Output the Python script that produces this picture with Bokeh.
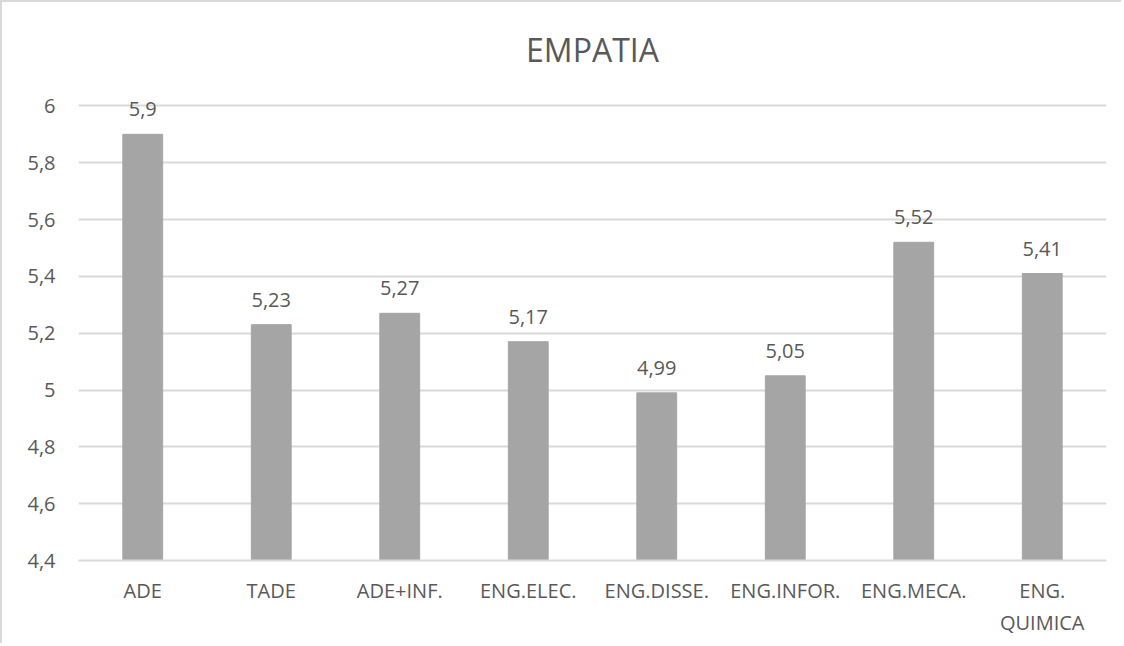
from bokeh.plotting import figure
from bokeh.models import ColumnDataSource, CustomJSTickFormatter, FixedTicker, Range1d, Title
from bokeh.embed import file_html
from bokeh.resources import INLINE
from bokeh.core.properties import value

categories = ["ADE", "TADE", "ADE+INF.", "ENG.ELEC.", "ENG.DISSE.", "ENG.INFOR.", "ENG.MECA.", "ENG.\nQUIMICA"]
values = [5.9, 5.23, 5.27, 5.17, 4.99, 5.05, 5.52, 5.41]
labels = [str(v).replace(".", ",") for v in values]
y_ticks = [4.4, 4.6, 4.8, 5.0, 5.2, 5.4, 5.6, 5.8, 6.0]

FONT = "Open Sans"
TEXT = "#595959"
GRID = "#D9D9D9"

src = ColumnDataSource(dict(cat=categories, val=values, lab=labels))

# range extends slightly above the top tick (6) so the 5,9 label is not clipped
p = figure(x_range=categories, y_range=Range1d(4.4, 6.1),
           width=1121, height=643, output_backend="svg", toolbar_location=None,
           min_border_left=76, min_border_right=17, min_border_top=75, min_border_bottom=85,
           title=None)
p.styles = {"border-top": "2px solid #D9D9D9", "border-left": "2px solid #D9D9D9"}

p.vbar(x="cat", top="val", bottom=4.4, width=0.31, source=src, color="#A5A5A5")
p.text(x="cat", y="val", text="lab", source=src, text_align="center", text_baseline="bottom",
       y_offset=-18, text_font=value(FONT), text_font_size="20px", text_color=TEXT)

title = Title(text="EMPATIA", align="center", text_font=FONT, text_font_size="32px",
              text_font_style="normal", text_color=TEXT, standoff=13)
p.add_layout(title, "above")

p.outline_line_color = None
p.xgrid.grid_line_color = None
p.ygrid.grid_line_color = GRID
p.ygrid.grid_line_width = 2
p.yaxis.ticker = FixedTicker(ticks=y_ticks)
p.yaxis.formatter = CustomJSTickFormatter(code="return String(Math.round(tick*10)/10).replace('.', ',');")
p.yaxis.axis_line_color = None
p.yaxis.major_tick_line_color = None
p.yaxis.minor_tick_line_color = None
p.yaxis.major_label_standoff = 17
p.xaxis.axis_line_color = GRID
p.xaxis.axis_line_width = 2
p.xaxis.major_tick_line_color = None
p.xaxis.major_label_standoff = 10
for ax in (p.xaxis, p.yaxis):
    ax.major_label_text_font = FONT
    ax.major_label_text_font_size = "20px"
    ax.major_label_text_color = TEXT
p.x_range.range_padding = 0
p.background_fill_color = "white"
p.border_fill_color = "white"

open("out.html", "w").write(file_html(p, INLINE))
